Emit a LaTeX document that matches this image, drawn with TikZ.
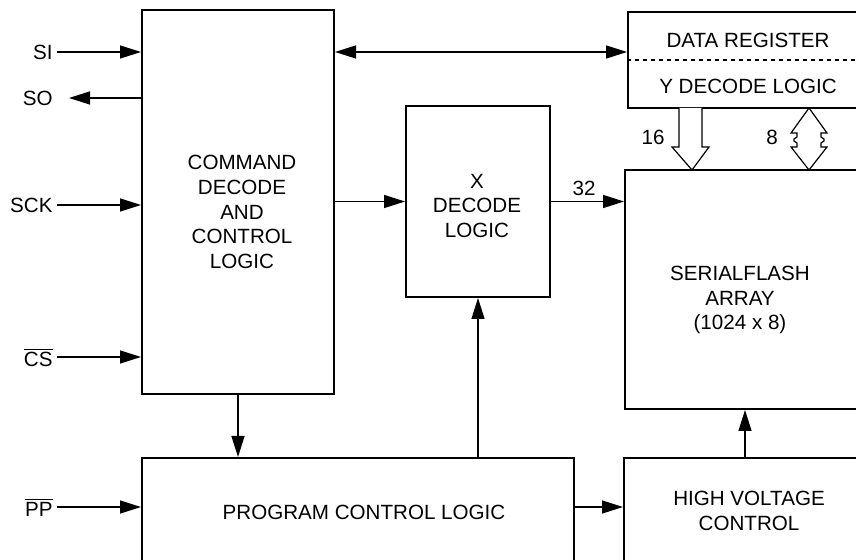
\documentclass[tikz,border=0pt]{standalone}
\usepackage{fontspec}
\setmainfont{Liberation Sans}
\usetikzlibrary{arrows.meta}

\begin{document}
\begin{tikzpicture}[x=0.5pt,y=-0.5pt,join=miter,
    >={Triangle[length=10.5pt,width=6.5pt]},
    font=\fontsize{10.3}{12.4}\selectfont]
    \tikzstyle{blk} = [draw,line width=1pt,inner sep=0pt]
    \tikzstyle{ann} = [align=center,inner sep=0pt]
    \tikzstyle{pin} = [inner sep=2pt,anchor=east]
    \tikzstyle{sig} = [line width=.7pt,->]
    \tikzstyle{busfill} = [fill=white,line width=.6pt]
    \useasboundingbox (0,0) rectangle (856,560);
    \clip (0,0) rectangle (856,560);
    % blocks
    \node[blk,minimum width=96pt,minimum height=192pt] (cmd) at (238,202) {};
    \node[blk,minimum width=72pt,minimum height=95.5pt] (xdec) at (478,201.5) {};
    \node[blk,minimum width=136pt,minimum height=48pt] (dreg) at (764,60) {};
    \node[blk,minimum width=137.5pt,minimum height=119.5pt] (array) at (762.5,289.5) {};
    \node[blk,minimum width=138pt,minimum height=71pt] (hv) at (762,529) {};
    \node[blk,minimum width=216pt,minimum height=71pt] (prog) at (358,529) {};
    \draw[line width=.6pt,dash pattern=on 2pt off 2pt] (dreg.west) -- (dreg.east);
    % texts
    \node[ann] (cmdtxt) at (242,212) {COMMAND\\DECODE\\AND\\CONTROL\\LOGIC};
    \node[ann] (xtxt) at (477,206) {X\\DECODE\\LOGIC};
    \node[ann] (dregtxt) at (748,40) {DATA REGISTER};
    \node[ann] (ydectxt) at (748,86) {Y DECODE LOGIC};
    \node[ann] (arrtxt) at (740,300) {SERIALFLASH\\ARRAY\\(1024 x 8)};
    \node[ann] (progtxt) at (364,512) {PROGRAM CONTROL LOGIC};
    \node[ann] (hvtxt) at (749,511) {HIGH VOLTAGE\\CONTROL};
    \node[ann] (w32) at (584,188) {32};
    \node[ann] (w16) at (653,137) {16};
    \node[ann] (w8) at (772,137) {8};
    % pins
    \node[pin] (si) at (57,52) {SI};
    \node[pin] (so) at (57,98) {SO};
    \node[pin] (sck) at (57,205) {SCK};
    \node[pin] (cs) at (57,357) {$\overline{\hbox{CS}}$};
    \node[pin] (pp) at (57,507) {$\overline{\hbox{PP}}$};
    \draw[sig] (si.east) -- (si.east -| cmd.west);
    \draw[sig,shorten >=6pt] (so.east -| cmd.west) -- (so.east);
    \draw[sig] (sck.east) -- (sck.east -| cmd.west);
    \draw[sig] (cs.east) -- (cs.east -| cmd.west);
    \draw[sig] (pp.east) -- (pp.east -| prog.west);
    % connections
    \draw[sig,<->] (si.east -| cmd.east) -- (si.east -| dreg.west);
    \draw[sig] (xdec.west -| cmd.east) -- (xdec.west);
    \draw[sig] (xdec.east) -- (xdec.east -| array.west);
    \draw[sig] (cmd.south) -- (cmd.south |- prog.north);
    \draw[sig] (xdec.south |- prog.north) -- (xdec.south);
    \draw[sig] (pp.east -| prog.east) -- (pp.east -| hv.west);
    \coordinate (hvtap) at (745,458);
    \draw[sig] (hvtap) -- (hvtap |- array.south);
    % buses
    \filldraw[busfill](679,108)--(679,147)--(672,147)--(692,170)
                      --(709,147)--(702,147)--(702,108);
    \filldraw[busfill](809,108)--(791,133)--(797,133)--(797,137)--(794,139)
                      --(794,141)--(797,143)--(797,147)--(791,147)--(809,170)
                      --(827,147)--(821,147)--(821,143)--(824,141)--(824,139)
                      --(821,137)--(821,133)--(827,133)--cycle;
\end{tikzpicture}
\end{document}
